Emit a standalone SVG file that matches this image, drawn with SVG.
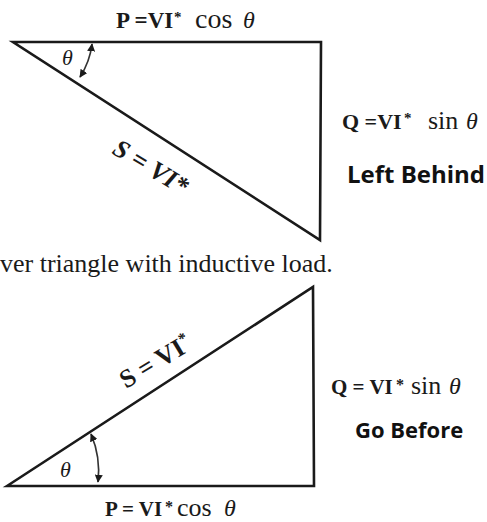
<svg xmlns="http://www.w3.org/2000/svg" width="487" height="522" viewBox="0 0 487 522">
<defs>
<style>
.edge{fill:none;stroke:#1a1a1a;stroke-width:2.6;stroke-linejoin:miter}
.arc{fill:none;stroke:#333;stroke-width:1.7}
.m{font-family:"Liberation Serif","Times New Roman",serif;fill:#1a1a1a}
.b{font-weight:bold}
.n{font-weight:normal}
.i{font-style:italic}
.s{font-family:"Open Sans","Noto Sans","Liberation Sans",sans-serif;font-weight:bold;fill:#111}
</style>
<marker id="ah" viewBox="0 0 10 10" refX="9" refY="5" markerWidth="8" markerHeight="8" markerUnits="userSpaceOnUse" orient="auto-start-reverse">
<path d="M0,0 L10,5 L0,10 z" fill="#1a1a1a"/>
</marker>
</defs>
<rect width="487" height="522" fill="#fff"/>
<g id="triangle-inductive">
<path class="edge" d="M13,42 L321,42 L320,240 Z"/>
<path class="arc" d="M80,77 A78,78 0 0 0 92,44" marker-start="url(#ah)" marker-end="url(#ah)"/>
<text class="m i" x="62" y="65" font-size="22">θ</text>
<text class="m b" y="28" font-size="23"><tspan x="116">P =VI</tspan><tspan x="174" y="22" font-size="15">*</tspan></text>
<text class="m n" x="195" y="28" font-size="28">cos</text>
<text class="m i" x="243" y="28" font-size="24">θ</text>
<text class="m b i" font-size="26" transform="translate(111,153) rotate(31)">S = VI*</text>
<text class="m b" y="129" font-size="22"><tspan x="342">Q =VI</tspan><tspan x="404" y="123" font-size="15">*</tspan></text>
<text class="m n" x="428" y="129" font-size="26">sin</text>
<text class="m i" x="466" y="129" font-size="24">θ</text>
<text class="s" x="347" y="183" font-size="24">Left Behind</text>
</g>
<text id="caption" class="m" x="0" y="272" font-size="26">ver triangle with inductive load.</text>
<g id="triangle-capacitive">
<path class="edge" d="M7,486 L313,287 L314,486 Z"/>
<path class="arc" d="M91,434 A95,95 0 0 1 98,482" marker-start="url(#ah)" marker-end="url(#ah)"/>
<text class="m i" x="60" y="477" font-size="22">θ</text>
<text class="m b" font-size="26" transform="translate(126,389) rotate(-31)">S = VI<tspan font-size="16" dy="-9">*</tspan></text>
<text class="m b" y="394" font-size="21"><tspan x="331">Q = VI</tspan><tspan x="396" y="390" font-size="16">*</tspan></text>
<text class="m n" x="411" y="394" font-size="26">sin</text>
<text class="m i" x="449" y="394" font-size="24">θ</text>
<text class="s" x="355" y="438" font-size="22">Go Before</text>
<text class="m b" y="516" font-size="21"><tspan x="105">P = VI</tspan><tspan x="165" y="512" font-size="16">*</tspan></text>
<text class="m n" x="177" y="516" font-size="26">cos</text>
<text class="m i" x="224" y="516" font-size="24">θ</text>
</g>
</svg>
